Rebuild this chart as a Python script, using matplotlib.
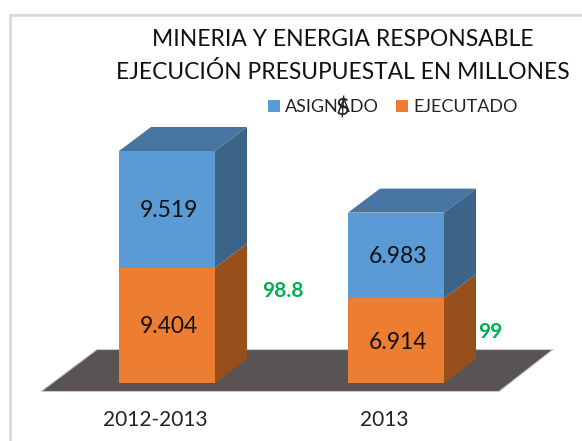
import matplotlib
matplotlib.use('Agg')
import matplotlib.pyplot as plt
from matplotlib.patches import Polygon, Rectangle

plt.rcParams['font.family'] = ['Lato', 'DejaVu Sans']

categories = ['2012-2013', '2013']
asignado = [9519, 6983]
ejecutado = [9404, 6914]
porcentaje = ['98.8', '99']
title_lines = ['MINERIA Y ENERGIA RESPONSABLE', 'EJECUCIÓN PRESUPUESTAL EN MILLONES']

W, H = 582, 441
sx = 229.0    # px per category step
sy = 0.01226  # px per unit of value
floor_px = 392
x0_px, base_px = 167, 383

fig = plt.figure(figsize=(W / 100, H / 100), dpi=100)
ax = fig.add_axes([0, (H - floor_px) / H, 1, floor_px / H])
ax.set_xlim(-x0_px / sx, (W - x0_px) / sx)
ax.set_ylim((base_px - floor_px) / sy, base_px / sy)

# grey frame of the pasted chart
fig.add_artist(Rectangle((10.5 / W, -0.02), 1.1, (H - 15) / H + 0.02, transform=fig.transFigure,
                         fc='white', ec='#D9D9D9', lw=2, zorder=-1))
ax.patch.set_alpha(0)

width = 96 / sx
dx = 32 / sx
dy = 24 / sy


def px_x(v):
    return (v - x0_px) / sx


def px_y(v):
    return (base_px - v) / sy


# floor
ax.add_patch(Polygon([(px_x(41), px_y(391.5)), (px_x(499), px_y(391.5)),
                      (px_x(553), px_y(349.5)), (px_x(97), px_y(349.5))],
                     fc='#595453', ec='#C9C9C9', lw=0.8, zorder=1))


def box(x, bottom, h, front, side, top):
    left = x - width / 2
    right = x + width / 2
    b = ax.bar(x, h, width, bottom=bottom, color=front, zorder=3)
    ax.add_patch(Polygon([(right, bottom), (right + dx, bottom + dy),
                          (right + dx, bottom + h + dy), (right, bottom + h)],
                         fc=side, ec='none', zorder=2))
    if top:
        ax.add_patch(Polygon([(left, bottom + h), (right, bottom + h),
                              (right + dx, bottom + h + dy), (left + dx, bottom + h + dy)],
                             fc=top, ec='none', zorder=2))
    return b


positions = range(len(categories))
label_shift = 1.5 / sy
for i in positions:
    box(i, 0, ejecutado[i], '#ED7D31', '#97501C', None)
    box(i, ejecutado[i], asignado[i], '#5B9BD5', '#3B6488', '#4575A0')
    for val, y in [(ejecutado[i], ejecutado[i] / 2), (asignado[i], ejecutado[i] + asignado[i] / 2)]:
        txt = f'{val:,}'.replace(',', '.')
        ax.text(i + 1.5 / sx, y - label_shift, txt, ha='center', va='center', fontsize=16.5,
                color='#111111', zorder=5)

# percentages
ax.text(px_x(282.5), px_y(291), porcentaje[0], ha='center', va='center', fontsize=15,
        fontweight='bold', color='#00B050')
ax.text(px_x(490.5), px_y(332), porcentaje[1], ha='center', va='center', fontsize=15,
        fontweight='bold', color='#00B050')

ax.set_xticks([i - 12 / sx for i in positions], categories)
ax.set_yticks([])
ax.tick_params(axis='x', length=0, pad=13, labelsize=15, labelcolor='#222222')
for s in ax.spines.values():
    s.set_visible(False)

# title
fig.text(343 / W, 1 - 40 / H, title_lines[0], ha='center', va='center', fontsize=16.5, color='#111111')
fig.text(343 / W, 1 - 72 / H, title_lines[1], ha='center', va='center', fontsize=16.35, color='#111111')

# legend
handles = [Rectangle((0, 0), 1, 1, fc='#5B9BD5'), Rectangle((0, 0), 1, 1, fc='#ED7D31')]
fig.legend(handles, ['ASIGNADO', 'EJECUTADO'], ncol=2, loc='center',
           bbox_to_anchor=(393 / W, 1 - 107 / H), frameon=False, fontsize=13,
           handlelength=0.65, handleheight=0.65, handletextpad=0.3, columnspacing=0.95,
           labelcolor='#222222')
fig.text(343 / W, 1 - 109 / H, r'\$', ha='center', va='center', fontsize=17, color='#222222')

fig.savefig('out.png', dpi=100)
